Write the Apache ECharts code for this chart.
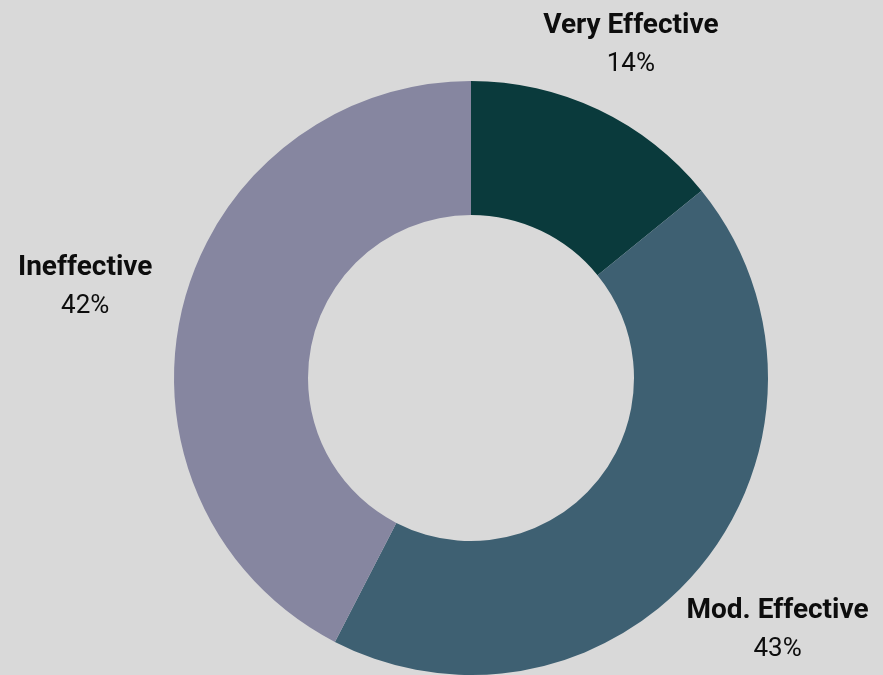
<!DOCTYPE html>
<html>
<head>
<meta charset="utf-8">
<script src="https://cdn.jsdelivr.net/npm/echarts@6/dist/echarts.min.js"></script>
<style>
  html, body { margin: 0; padding: 0; background: #d9d9d9; }
  #chart { width: 883px; height: 675px; }
</style>
</head>
<body>
<div id="chart"></div>
<script>
const categories = ["Very Effective", "Mod. Effective", "Ineffective"];
const values = [14, 43, 42];
const colors = ["#0a3a3c", "#3e6072", "#8686a0"];

const cx = 471, cy = 378, rOuter = 297, rInner = 163;
// distance of each label block centre from the pie centre
const labelRadius = [372, 395, 397];

const total = values.reduce((a, b) => a + b, 0);
const midAngles = [];
let acc = 0;
values.forEach((v) => {
  midAngles.push(((acc + v / 2) / total) * Math.PI * 2);
  acc += v;
});

const chart = echarts.init(document.getElementById("chart"));
chart.setOption({
  backgroundColor: "#d9d9d9",
  animation: false,
  series: [
    {
      type: "pie",
      center: [cx, cy],
      radius: [rInner, rOuter],
      startAngle: 90,
      clockwise: true,
      color: colors,
      itemStyle: { borderWidth: 0 },
      label: {
        show: true,
        position: "outside",
        overflow: "none",
        formatter: (p) => "{n|" + p.name + "}\n{v|" + p.value + "%}",
        rich: {
          n: { fontFamily: "Roboto", fontWeight: "bold", fontSize: 28, color: "#0d0d0d", lineHeight: 38, align: "center" },
          v: { fontFamily: "Roboto", fontSize: 26, color: "#0d0d0d", lineHeight: 38, align: "center" },
        },
      },
      labelLine: { show: false },
      labelLayout: (params) => {
        const a = midAngles[params.dataIndex];
        const r = labelRadius[params.dataIndex];
        return {
          x: cx + Math.sin(a) * r,
          y: cy - Math.cos(a) * r + 3,
          align: "center",
          verticalAlign: "middle",
        };
      },
      data: categories.map((name, i) => ({ name, value: values[i] })),
    },
  ],
});
</script>
</body>
</html>
